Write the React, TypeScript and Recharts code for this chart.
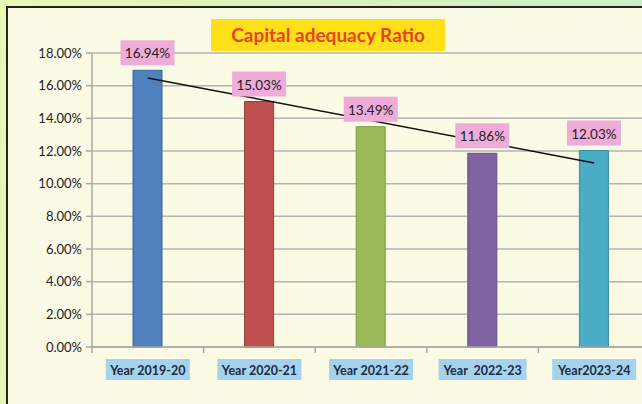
import { BarChart, Bar, XAxis, YAxis, CartesianGrid, Line, Cell, LabelList, ComposedChart } from "recharts";

const years = ["Year 2019-20", "Year 2020-21", "Year 2021-22", "Year  2022-23", "Year2023-24"];
const ratios = [16.94, 15.03, 13.49, 11.86, 12.03];
const barColors = ["#4f81bd", "#c0504d", "#9bbb59", "#8064a2", "#4bacc6"];
const barEdges = ["#3b6496", "#96403d", "#7d9a46", "#654f82", "#3a8ca3"];
// linear trend end points
const trend = [16.47, null, null, null, 11.27];
const yTicks = [0, 2, 4, 6, 8, 10, 12, 14, 16, 18];

const chartData = years.map((year, i) => ({ year, ratio: ratios[i], trend: trend[i] }));

const BAND = 111.6;

const YearTick = ({ x, y, payload }: any) => {
  const w = payload.value.length > 12 ? 88 : 84;
  return (
    <g>
      <line x1={x - BAND / 2} y1={y - 8} x2={x - BAND / 2} y2={y - 2} stroke="#a8a8a8" strokeWidth={1.5} />
      <rect x={x - w / 2} y={y + 4} width={w} height={21} fill="#a6d3ec" />
      <text x={x} y={y + 15} textAnchor="middle" dominantBaseline="central" fontSize={12.5} fontWeight={700} fill="#1c2a48" fontFamily="Lato, sans-serif">
        {payload.value.replace(/ /g, "\u00a0")}
      </text>
    </g>
  );
};

const RatioLabel = ({ x, y, width, value }: any) => {
  const cx = x + width / 2;
  return (
    <g>
      <rect x={cx - 27} y={y - 30} width={54} height={25} fill="#f0acd8" />
      <text x={cx} y={y - 17} textAnchor="middle" dominantBaseline="central" fontSize={13.5} fill="#222" fontFamily="Lato, sans-serif">
        {value.toFixed(2)}%
      </text>
    </g>
  );
};

export default function App() {
  return (
    <div
      style={{
        position: "absolute",
        left: 0,
        top: 0,
        width: 642,
        height: 404,
        overflow: "hidden",
        background: "linear-gradient(100deg, #e8f6b6 0%, #d8f0c0 60%, #c6ecca 100%)",
      }}
    >
      <div
        style={{
          position: "absolute",
          left: 6,
          top: 6,
          width: 700,
          height: 440,
          border: "2px solid #222",
          background: "#fafae5",
        }}
      />
      <div
        style={{
          position: "absolute",
          left: 211,
          top: 19,
          width: 234,
          height: 32,
          background: "#ffe01a",
          color: "#e8451c",
          fontFamily: "Lato, sans-serif",
          fontWeight: 700,
          fontSize: 19,
          lineHeight: "32px",
          textAlign: "center",
        }}
      >
        Capital adequacy Ratio
      </div>
      <div style={{ position: "absolute", left: 0, top: 0 }}>
        <ComposedChart width={660} height={404} data={chartData} margin={{ top: 53, right: 10, bottom: 17, left: 0 }}>
          <CartesianGrid vertical={false} stroke="#b4b4b4" strokeWidth={1.5} />
          <XAxis dataKey="year" height={40} tick={<YearTick />} tickLine={false} axisLine={{ stroke: "#a8a8a8", strokeWidth: 1.5 }} interval={0} />
          <YAxis
            width={92}
            domain={[0, 18]}
            ticks={yTicks}
            tickFormatter={(v: number) => `${v.toFixed(2)}%`}
            tick={{ fontSize: 13, fill: "#222", fontFamily: "Lato, sans-serif" }}
            tickSize={6}
            tickMargin={4}
            tickLine={{ stroke: "#a8a8a8", strokeWidth: 1.5 }}
            axisLine={{ stroke: "#a8a8a8", strokeWidth: 1.5 }}
          />
          <Bar dataKey="ratio" barSize={29} isAnimationActive={false}>
            {chartData.map((d, i) => (
              <Cell key={d.year} fill={barColors[i]} stroke={barEdges[i]} strokeWidth={1} />
            ))}
            <LabelList dataKey="ratio" content={<RatioLabel />} />
          </Bar>
          <Line dataKey="trend" stroke="#111" strokeWidth={1.5} dot={false} connectNulls isAnimationActive={false} />
        </ComposedChart>
      </div>
    </div>
  );
}
